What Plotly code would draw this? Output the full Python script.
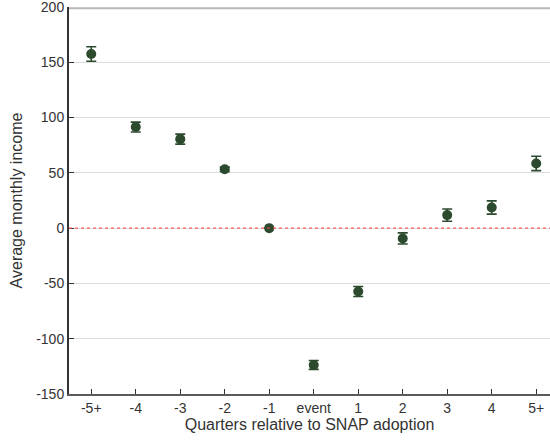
import plotly.graph_objects as go

categories = ["-5+", "-4", "-3", "-2", "-1", "event", "1", "2", "3", "4", "5+"]
estimates = [157.5, 91.4, 80.5, 53.2, 0.0, -123.7, -57.3, -9.3, 11.8, 18.7, 58.5]
ci_half = [6.5, 4.5, 4.5, 2.0, 0.0, 4.0, 4.5, 5.0, 5.5, 6.0, 6.5]
y_ticks = [-150, -100, -50, 0, 50, 100, 150, 200]

green = "#2c4a2e"
font = "Liberation Sans, Arial, sans-serif"
text_color = "#333333"

x_idx = list(range(len(categories)))

fig = go.Figure()
fig.add_trace(go.Scatter(
    x=x_idx, y=estimates,
    mode="markers",
    marker=dict(color=green, size=10),
    error_y=dict(type="data", array=ci_half, visible=True, color=green, thickness=1.6, width=5),
    showlegend=False, hoverinfo="skip",
))

# reference line at zero
fig.add_shape(type="line", xref="paper", yref="y", x0=0, x1=1, y0=0, y1=0,
              line=dict(color="#ff4a4a", width=1.1, dash="dot"), layer="above", opacity=0.85)
# light top border
fig.add_shape(type="line", xref="paper", yref="paper", x0=0, x1=1, y0=0.997, y1=0.997,
              line=dict(color="#b8b8b8", width=2), layer="above")

fig.update_layout(
    width=550, height=446,
    margin=dict(l=69, r=0, t=7, b=52),
    plot_bgcolor="white", paper_bgcolor="white",
    font=dict(family=font, size=15, color=text_color),
    xaxis=dict(
        range=[-0.5, 10.31],
        tickmode="array", tickvals=x_idx, ticktext=categories,
        tickfont=dict(size=14),
        showgrid=False, zeroline=False,
        showline=True, linecolor="#5a5a5a", linewidth=2,
        ticks="inside", ticklen=5, tickcolor=text_color, tickwidth=1,
        title=dict(text="Quarters relative to SNAP adoption", font=dict(size=16, family=font, color=text_color), standoff=4),
    ),
    yaxis=dict(
        range=[-150, 200],
        tickmode="array", tickvals=y_ticks,
        ticktext=[str(v) for v in y_ticks],
        tickfont=dict(size=14),
        ticklabeloverflow="allow",
        showgrid=True, gridcolor="#dddddd", gridwidth=1,
        zeroline=False,
        showline=True, linecolor=text_color, linewidth=2,
        ticks="inside", ticklen=5, tickcolor=text_color,
        title=dict(text="Average monthly income", font=dict(size=16, family=font, color=text_color), standoff=10),
    ),
)

fig.write_html("out.html", config={"displayModeBar": False},
               post_script="document.body.style.margin='0';document.body.style.overflow='hidden';")
